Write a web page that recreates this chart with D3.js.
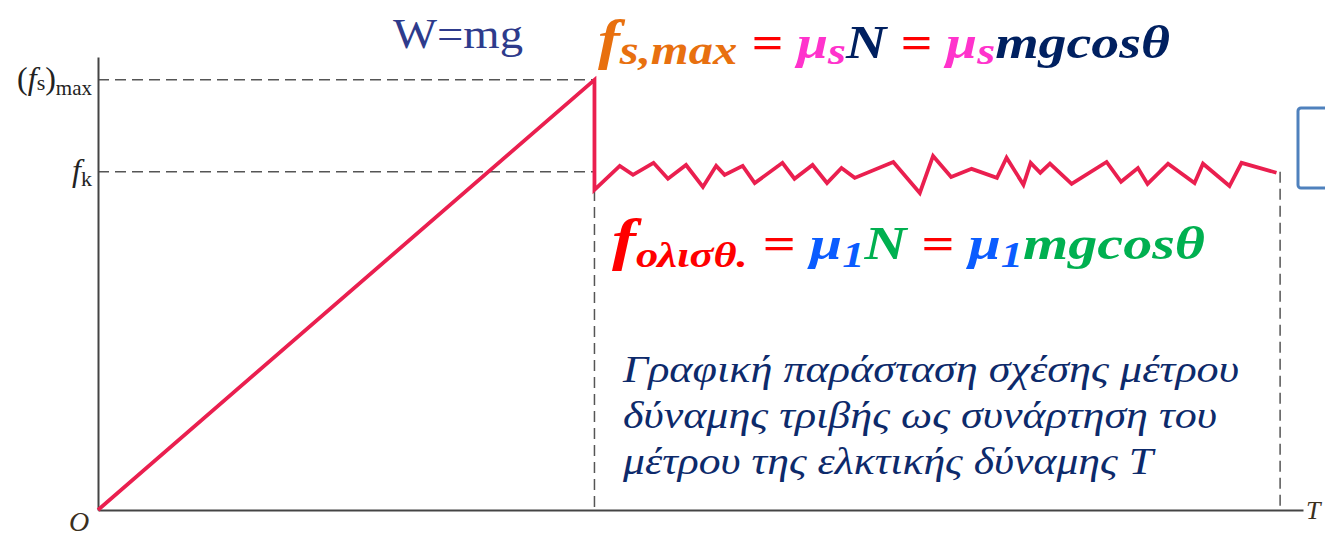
<!DOCTYPE html>
<html><head><meta charset="utf-8">
<script src="https://cdn.jsdelivr.net/npm/d3@7"></script>
<style>body{margin:0;background:#fff;overflow:hidden} svg{display:block}</style>
</head><body>
<svg id="c" width="1325" height="536"></svg>
<script>
// ---- data (T in arbitrary units 0..100, friction force f in % of (fs)max) ----
const rampT = [0, 41.2];
const rampF = [0, 100];
const slipT = [41.2, 41.2, 43.3, 44.4, 46.1, 47.3, 48.8, 50.2, 51.3, 52.0, 53.5, 54.5,
               56.8, 57.8, 59.3, 60.5, 61.7, 62.8, 66.0, 68.2, 69.3, 70.8, 72.5, 74.6,
               75.4, 76.8, 77.4, 78.2, 79.0, 80.8, 83.7, 84.9, 86.3, 87.1, 88.8, 91.0,
               91.7, 93.9, 94.9, 97.8];
const slipF = [100, 74.4, 80.0, 77.9, 80.7, 77.0, 80.2, 75.1, 80.0, 77.9, 80.0, 76.0,
               80.7, 77.0, 80.2, 76.0, 79.5, 77.2, 80.9, 73.7, 82.3, 77.4, 79.3, 77.2,
               81.9, 75.6, 80.7, 78.4, 80.5, 75.8, 80.9, 76.3, 79.5, 75.8, 80.5, 76.0,
               80.5, 75.3, 80.7, 78.4];
const yTickValues = [100, 78.6];          // (fs)max , fk
const yTickNames = ["fsmax", "fk"];
const staticEndT = 41.2;
const kineticEndT = 98.1;
const slipStartF = 74.4;
const captionLines = ["Γραφική παράσταση σχέσης μέτρου",
                      "δύναμης τριβής ως συνάρτηση του",
                      "μέτρου της ελκτικής δύναμης T"];

const svg = d3.select("#c");
const x = d3.scaleLinear().domain([0, 100]).range([98, 1303]);
const y = d3.scaleLinear().domain([0, 105.3]).range([510, 57]);

const dash = {stroke: "#555", "stroke-width": 1.5, "stroke-dasharray": "11,6", fill: "none"};
function applyAttrs(sel, o){ for (const k in o) sel.attr(k, o[k]); return sel; }

// dashed guides
yTickValues.forEach(v => {
  applyAttrs(svg.append("line").attr("x1", x(0)).attr("x2", x(staticEndT))
    .attr("y1", y(v)).attr("y2", y(v)), dash);
});
applyAttrs(svg.append("line").attr("x1", x(staticEndT)).attr("x2", x(staticEndT))
  .attr("y1", y(slipStartF)).attr("y2", y(0)), dash);
applyAttrs(svg.append("line").attr("x1", x(kineticEndT)).attr("x2", x(kineticEndT))
  .attr("y1", y(yTickValues[1])).attr("y2", y(0)), dash);

// axes
const gy = svg.append("g").attr("transform", `translate(${x(0)},0)`)
  .call(d3.axisLeft(y).tickValues(yTickValues).tickSize(0).tickSizeOuter(0).tickFormat(""));
const gx = svg.append("g").attr("transform", `translate(0,${y(0)})`)
  .call(d3.axisBottom(x).tickValues([]).tickSizeOuter(0));
[gy, gx].forEach(g => g.select(".domain").attr("stroke", "#444").attr("stroke-width", 2));

// tick labels (rich)
gy.selectAll(".tick").each(function(d, i){
  const t = d3.select(this).append("text").attr("x", -6).attr("y", 9)
    .attr("text-anchor", "end").attr("font-family", "Liberation Serif").attr("fill", "#222")
    .attr("font-size", 32);
  if (yTickNames[i] === "fsmax") {
    t.append("tspan").text("(");
    t.append("tspan").attr("font-style", "italic").text("f");
    t.append("tspan").attr("font-size", 22).attr("dy", 1).text("s");
    t.append("tspan").attr("dy", -1).text(")");
    t.append("tspan").attr("font-size", 21).attr("dy", 6).text("max");
  } else {
    t.append("tspan").attr("font-style", "italic").text("f");
    t.append("tspan").attr("font-size", 22).attr("dy", 5).text("k");
  }
});

// friction curve
const line = d3.line().x(d => x(d[0])).y(d => y(d[1]));
const pts = rampT.map((t, i) => [t, rampF[i]]).concat(slipT.map((t, i) => [t, slipF[i]]).slice(1));
svg.append("path").datum(pts).attr("d", line)
  .attr("fill", "none").attr("stroke", "#ea1f4f").attr("stroke-width", 3.8)
  .attr("stroke-linejoin", "miter");

// axis letters
svg.append("text").attr("x", 79).attr("y", 531).attr("text-anchor", "middle")
  .attr("font-family", "Liberation Serif").attr("font-style", "italic").attr("font-size", 28)
  .attr("fill", "#3a2f1e").text("O");
svg.append("text").attr("x", 1306).attr("y", 519)
  .attr("font-family", "Liberation Serif").attr("font-style", "italic").attr("font-size", 26)
  .attr("fill", "#3a2f1e").text("T");

// W=mg
svg.append("text").attr("x", 393).attr("y", 48).attr("font-family", "Liberation Serif")
  .attr("font-size", 43).attr("fill", "#2e3b8c").attr("textLength", 130)
  .attr("lengthAdjust", "spacingAndGlyphs").text("W=mg");

// blue box at the right edge
svg.append("rect").attr("x", 1298).attr("y", 108).attr("width", 60).attr("height", 80)
  .attr("rx", 3).attr("fill", "none").attr("stroke", "#4f81bd").attr("stroke-width", 3);

// formulas
function formula(x0, y0, len, parts, size){
  const t = svg.append("text").attr("x", x0).attr("y", y0)
    .attr("font-family", "Liberation Serif").attr("font-weight", "bold").attr("font-style", "italic")
    .attr("font-size", size).attr("textLength", len).attr("lengthAdjust", "spacingAndGlyphs");
  parts.forEach(p => {
    const s = t.append("tspan").attr("fill", p.c).text(p.t);
    if (p.s) s.attr("font-size", p.s);
    if (p.dy) s.attr("dy", p.dy);
  });
}
const OR = "#e8700f", RD = "#ff0000", MG = "#ff33cc", NV = "#002060", BL = "#0a5cff", GR = "#00b050";
formula(598, 58, 572, [
  {t: "f", c: OR, s: 54}, {t: "s,max", c: OR, s: 40, dy: 6},
  {t: " = ", c: RD, dy: -6}, {t: "μ", c: MG}, {t: "s", c: MG, s: 38, dy: 6},
  {t: "N", c: NV, dy: -6}, {t: " = ", c: RD}, {t: "μ", c: MG}, {t: "s", c: MG, s: 38, dy: 6},
  {t: "mgcosθ", c: NV, dy: -6}
], 46);
formula(612, 259, 593, [
  {t: "f", c: RD, s: 58}, {t: "ολισθ.", c: RD, s: 36, dy: 8},
  {t: " = ", c: RD, dy: -8}, {t: "μ", c: BL}, {t: "1", c: BL, s: 36, dy: 8},
  {t: "N", c: GR, dy: -8}, {t: " = ", c: RD}, {t: "μ", c: BL}, {t: "1", c: BL, s: 36, dy: 8},
  {t: "mgcosθ", c: GR, dy: -8}
], 47);

// caption
const capLens = [616, 594, 530];
captionLines.forEach((s, i) => {
  svg.append("text").attr("x", 623).attr("y", 382 + i * 46)
    .attr("font-family", "Liberation Serif").attr("font-style", "italic").attr("font-size", 38)
    .attr("fill", "#0d2a6b").attr("textLength", capLens[i]).attr("lengthAdjust", "spacingAndGlyphs")
    .text(s);
});
</script>
</body></html>
